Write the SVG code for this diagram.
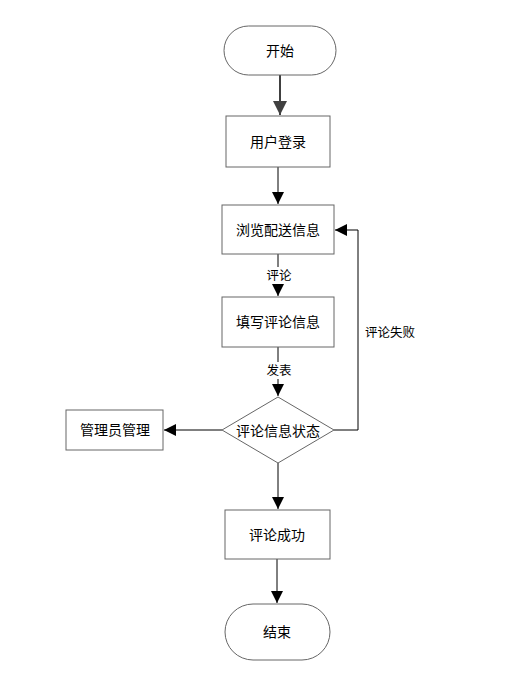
<svg xmlns="http://www.w3.org/2000/svg" width="512" height="683" viewBox="0 0 512 683">
<style>
.n{fill:#fff;stroke:#666;stroke-width:1}
.t{font-family:"Liberation Sans","Noto Sans CJK SC",sans-serif;font-size:14px;fill:#000;text-anchor:middle;dominant-baseline:central}
.e{fill:none;stroke:#000;stroke-width:1}
.l{font-family:"Liberation Sans","Noto Sans CJK SC",sans-serif;font-size:12.5px;fill:#000;text-anchor:middle;dominant-baseline:central}
</style>
<defs>
<marker id="a" markerWidth="12" markerHeight="12" refX="10" refY="5" orient="auto" markerUnits="userSpaceOnUse" viewBox="0 0 10 10"><path d="M0,0L10,5L0,10z" fill="#000"/></marker>
<marker id="a2" markerWidth="14" markerHeight="14" refX="10" refY="5" orient="auto" markerUnits="userSpaceOnUse" viewBox="0 0 10 10"><path d="M0,0L10,5L0,10z" fill="#404040"/></marker>
</defs>
<rect width="512" height="683" fill="#fff"/>
<g id="edges">
<line x1="280" y1="75" x2="280" y2="115" stroke="#404040" stroke-width="2" marker-end="url(#a2)"/>
<line class="e" x1="278" y1="167" x2="278" y2="204" marker-end="url(#a)"/>
<line class="e" x1="278" y1="254" x2="278" y2="296" marker-end="url(#a)"/>
<rect x="264" y="267" width="30" height="17" fill="#fff"/>
<text class="l" x="279" y="276">评论</text>
<line class="e" x1="278" y1="347" x2="278" y2="396" marker-end="url(#a)"/>
<rect x="264" y="362" width="30" height="17" fill="#fff"/>
<text class="l" x="279" y="371">发表</text>
<polyline class="e" points="334,430 358,430 358,230 335,230" marker-end="url(#a)"/>
<text class="l" x="390" y="333">评论失败</text>
<line class="e" x1="222" y1="430" x2="164" y2="430" marker-end="url(#a)"/>
<line class="e" x1="278" y1="463" x2="278" y2="509" marker-end="url(#a)"/>
<line class="e" x1="277" y1="559" x2="277" y2="603" marker-end="url(#a)"/>
</g>
<g id="start"><rect class="n" x="224" y="26" width="112" height="49" rx="24.5"/><text class="t" x="280" y="51">开始</text></g>
<g id="login"><rect class="n" x="226" y="116" width="104" height="51"/><text class="t" x="278" y="142">用户登录</text></g>
<g id="browse"><rect class="n" x="222" y="205" width="112" height="49"/><text class="t" x="278" y="230">浏览配送信息</text></g>
<g id="fill"><rect class="n" x="222" y="297" width="112" height="50"/><text class="t" x="278" y="322">填写评论信息</text></g>
<g id="status"><polygon class="n" points="278,397 334,430 278,463 222,430"/><text class="t" x="278" y="431">评论信息状态</text></g>
<g id="admin"><rect class="n" x="66" y="410" width="97" height="40"/><text class="t" x="115" y="430">管理员管理</text></g>
<g id="success"><rect class="n" x="225" y="510" width="105" height="49"/><text class="t" x="277" y="535">评论成功</text></g>
<g id="end"><rect class="n" x="225" y="604" width="105" height="56" rx="28"/><text class="t" x="277" y="632">结束</text></g>
</svg>
